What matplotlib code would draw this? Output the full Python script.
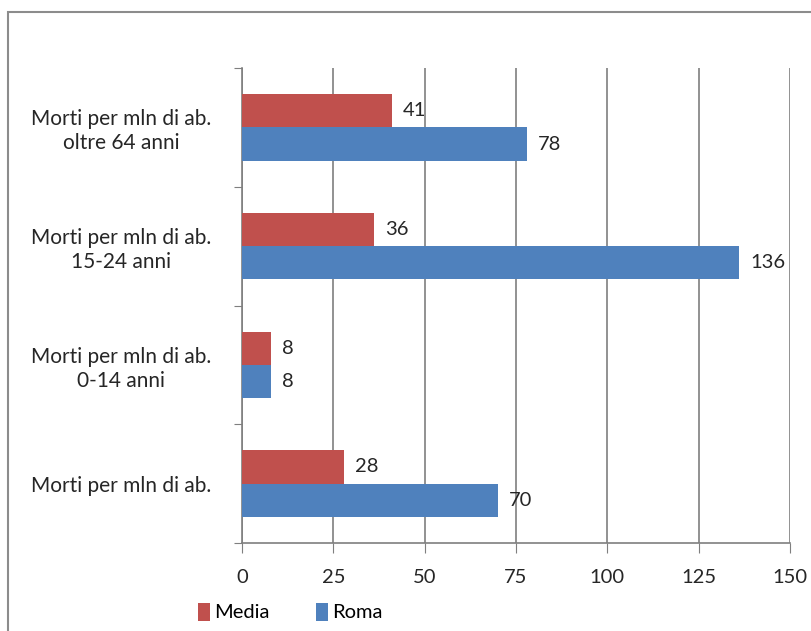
import matplotlib.pyplot as plt
from matplotlib.patches import Rectangle

# -----------------------------
# Data
# -----------------------------
categories = [
    "Morti per mln di ab.",
    "Morti per mln di ab.\n0-14 anni",
    "Morti per mln di ab.\n15-24 anni",
    "Morti per mln di ab.\noltre 64 anni",
]
media = [28, 8, 36, 41]
roma = [70, 8, 136, 78]
series_names = ["Media", "Roma"]
x_ticks = [0, 25, 50, 75, 100, 125, 150]

RED = "#C0504D"
BLUE = "#4F81BD"
GRID = "#7f7f7f"
TXT = "#262626"
FS = 14.5

plt.rcParams["font.family"] = ["Lato", "DejaVu Sans"]

# -----------------------------
# Figure
# -----------------------------
fig = plt.figure(figsize=(8.12, 6.31), dpi=100)
fig.patches.append(Rectangle((8 / 812, -0.1), 1.2, 1 - 12 / 631 + 0.1,
                             transform=fig.transFigure, fill=False,
                             edgecolor="#8c8c8c", linewidth=1.5))

ax = fig.add_axes([242 / 812, 1 - 543 / 631, 548 / 812, 475 / 631])

pos = list(range(len(categories)))
h = 0.28
b1 = ax.barh([p + h / 2 for p in pos], media, height=h, color=RED,
             label=series_names[0], zorder=3)
b2 = ax.barh([p - h / 2 for p in pos], roma, height=h, color=BLUE,
             label=series_names[1], zorder=3)

for bars in (b1, b2):
    for rect in bars:
        w = rect.get_width()
        ax.annotate(f"{w:g}", (w, rect.get_y() + rect.get_height() / 2),
                    xytext=(8, 0), textcoords="offset points",
                    va="center", ha="left", fontsize=FS, color=TXT)

ax.set_xlim(0, 150)
ax.set_ylim(-0.5, 3.5)
ax.set_xticks(x_ticks)
ax.set_yticks([-0.5, 0.5, 1.5, 2.5, 3.5])
ax.set_yticklabels([])
ax.set_yticks(pos, minor=True)
ax.set_yticklabels(categories, minor=True, multialignment="center",
                   fontsize=15, color=TXT, linespacing=1.25)
ax.tick_params(axis="y", which="minor", length=0, pad=22)
ax.tick_params(axis="y", which="major", length=6, color=GRID)
ax.tick_params(axis="x", length=7, pad=12, labelsize=FS, color=GRID,
               labelcolor=TXT)

ax.grid(axis="x", color=GRID, linewidth=1.2, zorder=0)
for side in ("top", "right"):
    ax.spines[side].set_visible(False)
for side in ("left", "bottom"):
    ax.spines[side].set_color(GRID)
    ax.spines[side].set_linewidth(1.2)

fig.legend(loc="center", bbox_to_anchor=(290 / 812, 1 - 612 / 631), ncol=2,
           frameon=False, fontsize=FS, handlelength=0.6, handleheight=1.0,
           handletextpad=0.2, columnspacing=2.3)

plt.savefig("out.png", dpi=100)
